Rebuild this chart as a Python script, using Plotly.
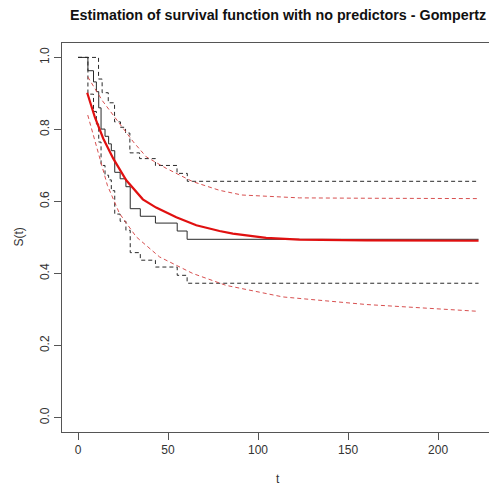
import plotly.graph_objects as go

# Kaplan-Meier estimate (step function) and its 95% confidence band
km_time = [0, 5.5, 8.6, 10.2, 11.5, 12.8, 15.0, 17.0, 18.5, 20.4, 23.4, 26.6, 29.0, 34.6, 43.0, 55.1, 60.6, 222.5]
km_surv = [1.0, 0.963, 0.932, 0.905, 0.860, 0.801, 0.781, 0.760, 0.741, 0.681, 0.663, 0.641, 0.580, 0.559, 0.540, 0.518, 0.495, 0.495]

km_up_time = [0, 11.4, 13.4, 16.8, 20.3, 23.6, 26.4, 28.8, 34.2, 43.0, 55.0, 60.7, 222.5]
km_up_surv = [1.0, 0.940, 0.902, 0.874, 0.821, 0.806, 0.790, 0.735, 0.719, 0.700, 0.678, 0.656, 0.656]

km_lo_time = [0, 5.5, 8.6, 10.2, 11.5, 12.8, 15.0, 17.0, 18.5, 20.4, 23.4, 26.6, 29.0, 34.6, 43.0, 55.1, 60.6, 222.5]
km_lo_surv = [1.0, 0.898, 0.850, 0.815, 0.765, 0.700, 0.673, 0.660, 0.630, 0.565, 0.545, 0.520, 0.458, 0.437, 0.418, 0.395, 0.373, 0.373]

# Gompertz fitted survival curve and its confidence limits, evaluated at observed times
gomp_time = [5.1, 9.3, 14.0, 19.6, 26.8, 36.0, 43.4, 54.6, 65.7, 78.6, 86.0, 104.5, 123.0, 160.0, 222.5]
gomp_surv = [0.902, 0.835, 0.775, 0.719, 0.659, 0.606, 0.583, 0.556, 0.534, 0.518, 0.511, 0.499, 0.494, 0.492, 0.491]

gomp_up_time = [5.4, 13.5, 21.6, 26.8, 30.8, 37.9, 49.0, 63.8, 78.6, 91.0, 123.0, 160.0, 222.5]
gomp_up_surv = [0.946, 0.880, 0.826, 0.790, 0.765, 0.724, 0.692, 0.655, 0.631, 0.618, 0.610, 0.609, 0.608]

gomp_lo_time = [5.4, 10.2, 16.3, 23.0, 32.3, 45.3, 63.8, 82.3, 113.8, 160.0, 222.5]
gomp_lo_surv = [0.840, 0.752, 0.645, 0.567, 0.502, 0.446, 0.400, 0.367, 0.335, 0.314, 0.295]

x_ticks = [0, 50, 100, 150, 200]
y_ticks = [0.0, 0.2, 0.4, 0.6, 0.8, 1.0]
y_tick_labels = ["0.0", "0.2", "0.4", "0.6", "0.8", "1.0"]

title_text = "Estimation of survival function with no predictors - Gompertz"

BLACK = "#2a2a2a"
RED = "#e01010"
RED_LIGHT = "#d85050"

fig = go.Figure()

fig.add_trace(go.Scatter(x=km_time, y=km_surv, mode="lines", line=dict(color=BLACK, width=1, shape="hv")))
fig.add_trace(go.Scatter(x=km_up_time, y=km_up_surv, mode="lines",
                         line=dict(color=BLACK, width=1, shape="hv", dash="4px,3px")))
fig.add_trace(go.Scatter(x=km_lo_time, y=km_lo_surv, mode="lines",
                         line=dict(color=BLACK, width=1, shape="hv", dash="4px,3px")))

fig.add_trace(go.Scatter(x=gomp_up_time, y=gomp_up_surv, mode="lines",
                         line=dict(color=RED_LIGHT, width=1, dash="4px,3px")))
fig.add_trace(go.Scatter(x=gomp_lo_time, y=gomp_lo_surv, mode="lines",
                         line=dict(color=RED_LIGHT, width=1, dash="4px,3px")))
fig.add_trace(go.Scatter(x=gomp_time, y=gomp_surv, mode="lines",
                         line=dict(color=RED, width=2.2)))

axis_font = dict(family="Liberation Sans, Arial, sans-serif", size=12, color="#333333")

fig.update_layout(
    width=489, height=486,
    margin=dict(l=62, r=0, t=43, b=54),
    paper_bgcolor="white", plot_bgcolor="white",
    showlegend=False,
    xaxis=dict(range=[-8.9, 228.3], tickvals=x_ticks, ticks="outside", ticklen=7,
               tickcolor="#555555", showline=True, linecolor="#555555", linewidth=1,
               mirror=True, showgrid=False, zeroline=False, tickfont=axis_font),
    yaxis=dict(range=[-0.04, 1.04], tickvals=y_ticks, ticktext=y_tick_labels, tickangle=-90,
               ticks="outside", ticklen=7, tickcolor="#555555", showline=True,
               linecolor="#555555", linewidth=1, showgrid=False, zeroline=False,
               tickfont=axis_font),
    annotations=[
        dict(text="<b>" + title_text + "</b>", xref="paper", yref="paper",
             x=0.507, y=1.0, yshift=28, xanchor="center", yanchor="middle",
             showarrow=False, font=dict(family="Liberation Sans, Arial, sans-serif",
                                        size=14.3, color="#111111")),
        dict(text="t", xref="paper", yref="paper", x=0.507, y=0, yshift=-47,
             xanchor="center", yanchor="middle", showarrow=False, font=axis_font),
        dict(text="S(t)", xref="paper", yref="paper", x=0, xshift=-44, y=0.5,
             xanchor="center", yanchor="middle", textangle=-90, showarrow=False,
             font=axis_font),
    ],
)

fig.write_html("out.html")
